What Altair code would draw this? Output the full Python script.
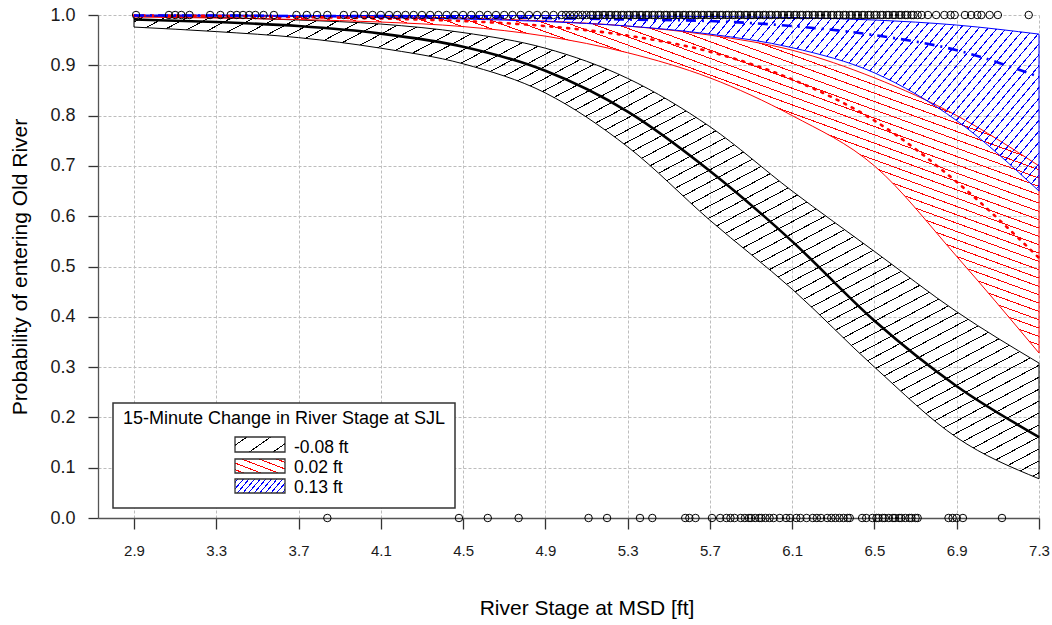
import math
import pandas as pd
import altair as alt

# ---------------- data ----------------
stage = [2.9, 3.3, 3.7, 4.1, 4.5, 4.9, 5.3, 5.7, 6.1, 6.5, 6.9, 7.3]

neg_fit = [0.991, 0.986, 0.978, 0.963, 0.937, 0.889, 0.808, 0.690, 0.550, 0.392, 0.262, 0.161]
neg_lo = [0.976, 0.967, 0.955, 0.934, 0.903, 0.845, 0.738, 0.592, 0.455, 0.300, 0.160, 0.078]
neg_hi = [0.998, 0.995, 0.990, 0.982, 0.965, 0.934, 0.874, 0.778, 0.650, 0.530, 0.410, 0.308]

mid_fit = [0.999, 0.998, 0.996, 0.993, 0.988, 0.978, 0.959, 0.927, 0.872, 0.790, 0.668, 0.517]
mid_lo = [0.996, 0.994, 0.991, 0.986, 0.977, 0.958, 0.925, 0.875, 0.800, 0.700, 0.520, 0.328]
mid_hi = [0.999, 0.999, 0.998, 0.997, 0.994, 0.988, 0.978, 0.960, 0.930, 0.875, 0.800, 0.700]

pos_fit = [0.999, 0.999, 0.998, 0.998, 0.996, 0.994, 0.991, 0.988, 0.978, 0.960, 0.930, 0.877]
pos_lo = [0.998, 0.998, 0.997, 0.995, 0.992, 0.987, 0.978, 0.962, 0.935, 0.885, 0.790, 0.650]
pos_hi = [1.000, 1.000, 0.999, 0.999, 0.999, 0.999, 0.998, 0.997, 0.995, 0.990, 0.980, 0.962]

group_labels = ["-0.08 ft", "0.02 ft", "0.13 ft"]

# observed detections (rug points): entered (1) and not entered (0)
top_x = [2.91, 3.07, 3.10, 3.13, 3.17, 3.27, 3.32, 3.37, 3.40, 3.43, 3.46, 3.49, 3.53, 3.58,
         3.69, 3.74, 3.79, 3.84, 3.92, 3.97, 4.02, 4.06, 4.10, 4.14, 4.18, 4.22, 4.26, 4.30,
         4.34, 4.38, 4.42, 4.46, 4.50, 4.54, 4.58, 4.62, 4.66, 4.70, 4.74, 4.78, 4.82, 4.86,
         4.90, 4.94, 4.98, 5.00, 5.02, 5.04, 5.06, 5.08, 5.10, 5.12, 5.13, 5.15, 5.16, 5.18,
         5.19, 5.21, 5.22, 5.24, 5.25, 5.27, 5.28, 5.30, 5.31, 5.33, 5.34, 5.36, 5.37, 5.39,
         5.40, 5.42, 5.43, 5.45, 5.46, 5.48, 5.49, 5.51, 5.52, 5.54, 5.55, 5.57, 5.58, 5.60,
         5.61, 5.63, 5.64, 5.66, 5.67, 5.69, 5.70, 5.72, 5.73, 5.75, 5.76, 5.78, 5.79, 5.81,
         5.82, 5.84, 5.85, 5.87, 5.88, 5.90, 5.91, 5.93, 5.94, 5.96, 5.97, 5.99, 6.00, 6.02,
         6.03, 6.05, 6.06, 6.08, 6.09, 6.11, 6.12, 6.14, 6.15, 6.17, 6.18, 6.20, 6.21, 6.23,
         6.24, 6.26, 6.27, 6.29, 6.30, 6.32, 6.33, 6.35, 6.36, 6.38, 6.39, 6.41, 6.42, 6.44,
         6.45, 6.47, 6.48, 6.50, 6.51, 6.53, 6.54, 6.56, 6.57, 6.59, 6.60, 6.62, 6.63, 6.65,
         6.66, 6.68, 6.69, 6.71, 6.73, 6.76, 6.80, 6.84, 6.87, 6.89, 6.94, 6.97, 7.00, 7.02,
         7.06, 7.10, 7.25]
bottom_x = [3.84, 4.48, 4.62, 4.77, 5.11, 5.20, 5.36, 5.42, 5.58, 5.60, 5.63, 5.71, 5.75,
            5.78, 5.80, 5.82, 5.85, 5.87, 5.89, 5.90, 5.92, 5.94, 5.95, 5.97, 5.99, 6.01,
            6.04, 6.07, 6.09, 6.12, 6.14, 6.17, 6.20, 6.22, 6.24, 6.27, 6.29, 6.31, 6.33,
            6.35, 6.37, 6.38, 6.44, 6.46, 6.49, 6.51, 6.52, 6.54, 6.55, 6.57, 6.59, 6.60,
            6.62, 6.63, 6.65, 6.67, 6.68, 6.70, 6.71, 6.86, 6.88, 6.90, 6.93, 7.12]

x_ticks = [2.9, 3.3, 3.7, 4.1, 4.5, 4.9, 5.3, 5.7, 6.1, 6.5, 6.9, 7.3]
y_ticks = [0.0, 0.1, 0.2, 0.3, 0.4, 0.5, 0.6, 0.7, 0.8, 0.9, 1.0]

# ---------------- layout / style ----------------
FONT = "Liberation Sans"
W, H = 941, 503
XDOM = [2.725, 7.3]
PXU = W / (XDOM[1] - XDOM[0])
CLEAR = "rgba(0,0,0,0)"


def hatch(color, w, h, angle_deg, spacing, lw=1.0):
    """Linear-gradient stripes imitating R polygon hatching."""
    a = math.radians(angle_deg)
    gx, gy = w * math.sin(a), h * math.cos(a)
    corners = [(0, 0), (1, 0), (0, 1), (1, 1)]
    ts = [cx * gx + cy * gy for cx, cy in corners]
    g2 = gx * gx + gy * gy
    imin, imax = ts.index(min(ts)), ts.index(max(ts))
    tmin, tmax = ts[imin], ts[imax]
    p1 = (gx * tmin / g2, gy * tmin / g2)
    p2 = (gx * tmax / g2, gy * tmax / g2)
    cmin, cmax = corners[imin], corners[imax]
    dist = abs((cmax[0] - cmin[0]) * w * math.sin(a) + (cmax[1] - cmin[1]) * h * math.cos(a))
    n = max(1, round(dist / spacing))
    hw = lw / 2 / dist
    stops = [alt.GradientStop(offset=0, color=CLEAR)]
    for i in range(n):
        c = (i + 0.5) / n
        stops += [alt.GradientStop(offset=c - hw, color=CLEAR),
                  alt.GradientStop(offset=c - hw, color=color),
                  alt.GradientStop(offset=c + hw, color=color),
                  alt.GradientStop(offset=c + hw, color=CLEAR)]
    stops.append(alt.GradientStop(offset=1, color=CLEAR))
    return alt.Gradient(gradient="linear", x1=p1[0], y1=p1[1], x2=p2[0], y2=p2[1], stops=stops)


xaxis = alt.Axis(values=x_ticks, format=".1f", grid=True, gridColor="#bdbdbd", gridDash=[3, 2],
                 gridWidth=1, domainColor="#555555", domainWidth=1.3, tickColor="#333333",
                 tickSize=11, tickWidth=1.3, labelFont=FONT, labelFontSize=15, labelPadding=14,
                 labelColor="#1a1a1a", labelFlush=False, labelOverlap=False,
                 title="River Stage at MSD [ft]", titleFont=FONT, titleFontSize=21,
                 titleFontWeight="normal", titleColor="#000000", titleX=488.5, titleY=96,
                 titleBaseline="alphabetic", titleAlign="center")
yaxis = alt.Axis(values=y_ticks, format=".1f", grid=True, gridColor="#bdbdbd", gridDash=[3, 2],
                 gridWidth=1, domainColor="#555555", domainWidth=1.3, tickColor="#333333",
                 tickSize=10, tickWidth=1.3, labelFont=FONT, labelFontSize=18, labelPadding=13,
                 labelColor="#1a1a1a", labelOverlap=False,
                 title="Probability of entering Old River", titleFont=FONT, titleFontSize=21,
                 titleFontWeight="normal", titleColor="#000000", titleX=-72, titleY=H / 2,
                 titleAngle=270, titleBaseline="alphabetic", titleAlign="center")
xscale = alt.Scale(domain=XDOM, nice=False, zero=False)
yscale = alt.Scale(domain=[0, 1], nice=False, zero=False)


def X(field):
    return alt.X(f"{field}:Q", scale=xscale, axis=xaxis)


def Y(field):
    return alt.Y(f"{field}:Q", scale=yscale, axis=yaxis)


groups = [
    (neg_lo, neg_hi, neg_fit, "#000000", 28, 10.5, dict(strokeWidth=2.6)),
    (mid_lo, mid_hi, mid_fit, "#ff0000", -20, 7.8, dict(strokeWidth=2.6, strokeDash=[2, 6.5], strokeCap="round")),
    (pos_lo, pos_hi, pos_fit, "#0000ff", 50, 7.0, dict(strokeWidth=2.6, strokeDash=[10, 6, 2, 6])),
]

band_layers, line_layers = [], []
for lo, hi, fit, col, ang, sp, lstyle in groups:
    df = pd.DataFrame({"stage": stage, "lo": lo, "hi": hi, "fit": fit})
    bw = (stage[-1] - stage[0]) * PXU
    bh = (max(hi) - min(lo)) * H
    band_layers.append(
        alt.Chart(df).mark_area(fill=hatch(col, bw, bh, ang, sp), stroke=col, strokeWidth=1,
                                interpolate="monotone")
        .encode(x=X("stage"), y=Y("lo"), y2="hi")
    )
    line_layers.append(
        alt.Chart(df).mark_line(color=col, interpolate="monotone", **lstyle)
        .encode(x=X("stage"), y=Y("fit"))
    )

rug_df = pd.DataFrame({"stage": top_x + bottom_x,
                       "p": [1.0] * len(top_x) + [0.0] * len(bottom_x)})
rug = alt.Chart(rug_df).mark_point(shape="circle", filled=False, size=56, stroke="#000000",
                                   strokeWidth=1, opacity=1).encode(x=X("stage"), y=Y("p"))

# ---------------- hand-built hatched legend ----------------
one = pd.DataFrame({"k": [0]})
leg = [
    alt.Chart(one).mark_rect(fill="white", stroke="#333333", strokeWidth=1.5)
    .encode(x=alt.value(15), x2=alt.value(357), y=alt.value(388), y2=alt.value(493)),
    alt.Chart(one).mark_text(text="15-Minute Change in River Stage at SJL", font=FONT, fontSize=18,
                             align="center", baseline="alphabetic", color="#000000")
    .encode(x=alt.value(186), y=alt.value(409)),
]
sw_rows = [(422, 437, 437.7), (444, 458, 458.3), (464, 478, 478.3)]
sw_style = [("#000000", 35, 14), ("#ff0000", -21, 6.0), ("#0000ff", 50, 4.2)]
for (y0, y1, yb), (col, ang, sp), lab in zip(sw_rows, sw_style, group_labels):
    leg.append(alt.Chart(one).mark_rect(fill=hatch(col, 50, y1 - y0, ang, sp), stroke="#333333",
                                        strokeWidth=1.3)
               .encode(x=alt.value(137), x2=alt.value(187), y=alt.value(y0), y2=alt.value(y1)))
    leg.append(alt.Chart(one).mark_text(text=lab, font=FONT, fontSize=17.5, align="left",
                                        baseline="alphabetic", color="#000000")
               .encode(x=alt.value(196), y=alt.value(yb)))

chart = alt.layer(*band_layers, *line_layers, rug, *leg).properties(
    width=W, height=H,
    padding={"left": 98, "top": 15, "right": 1052 - 98 - W, "bottom": 625 - 15 - H},
    autosize=alt.AutoSizeParams(type="none"),
    background="white",
).configure_view(stroke=None)

chart.save("out.html", embed_options={"renderer": "svg", "actions": False})
